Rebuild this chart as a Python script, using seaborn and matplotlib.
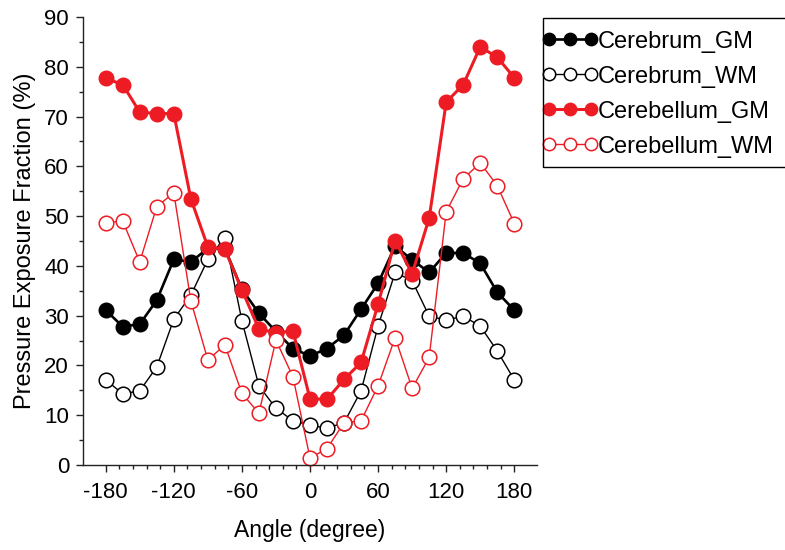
import matplotlib
matplotlib.use('Agg')
import matplotlib.pyplot as plt
import matplotlib.patches as mpatches
import seaborn as sns
import pandas as pd
import numpy as np
from matplotlib.ticker import MultipleLocator, FixedLocator

# Данные
angles = [-180, -165, -150, -135, -120, -105, -90, -75, -60, -45, -30, -15, 0,
          15, 30, 45, 60, 75, 90, 105, 120, 135, 150, 165, 180]
cerebrum_gm = [31.1, 27.8, 28.3, 33.1, 41.3, 40.8, 43.5, 43.5, 35.3, 30.5, 26.8, 23.4, 21.9,
               23.4, 26.1, 31.3, 36.5, 44.0, 41.2, 38.7, 42.6, 42.6, 40.5, 34.7, 31.1]
cerebrum_wm = [17.1, 14.3, 14.9, 19.7, 29.3, 34.1, 41.3, 45.7, 29.0, 15.9, 11.4, 8.9, 8.0,
               7.4, 8.5, 14.9, 27.9, 38.7, 37.0, 29.9, 29.1, 29.9, 27.9, 22.9, 17.1]
cerebellum_gm = [77.7, 76.4, 70.9, 70.6, 70.6, 53.5, 43.8, 43.3, 35.2, 27.3, 26.6, 26.9, 13.3,
                 13.2, 17.2, 20.6, 32.3, 45.1, 38.4, 49.6, 72.9, 76.4, 84.0, 81.9, 77.8]
cerebellum_wm = [48.7, 49.0, 40.8, 51.9, 54.7, 33.0, 21.1, 24.1, 14.4, 10.4, 25.1, 17.7, 1.4,
                 3.3, 8.5, 8.9, 15.9, 25.6, 15.4, 21.6, 50.9, 57.5, 60.7, 56.1, 48.5]

series_names = ['Cerebrum_GM', 'Cerebrum_WM', 'Cerebellum_GM', 'Cerebellum_WM']
series_values = [cerebrum_gm, cerebrum_wm, cerebellum_gm, cerebellum_wm]

RED = '#ed1c24'
styles = {
    'Cerebrum_GM': dict(color='black', markerfacecolor='black', lw=1.9, mew=1.0),
    'Cerebrum_WM': dict(color='black', markerfacecolor='white', lw=1.0, mew=1.1),
    'Cerebellum_GM': dict(color=RED, markerfacecolor=RED, lw=2.2, mew=1.0),
    'Cerebellum_WM': dict(color=RED, markerfacecolor='white', lw=1.0, mew=1.1),
}

sns.set_theme(style='ticks')
plt.rcParams['font.family'] = ['Liberation Sans', 'DejaVu Sans']
plt.rcParams['axes.unicode_minus'] = False
plt.rcParams['text.color'] = 'black'
plt.rcParams['axes.labelcolor'] = 'black'
plt.rcParams['xtick.color'] = 'black'
plt.rcParams['ytick.color'] = 'black'

fig = plt.figure(figsize=(7.85, 5.5), dpi=100)
ax = fig.add_axes([83 / 785, 1 - 465 / 550, (537 - 83) / 785, (465 - 17) / 550])

for name, vals in zip(series_names, series_values):
    df = pd.DataFrame({'angle': angles, 'value': vals})
    st = styles[name]
    sns.lineplot(data=df, x='angle', y='value', ax=ax, marker='o', markersize=10.5,
                 color=st['color'], markerfacecolor=st['markerfacecolor'],
                 markeredgecolor=st['color'], markeredgewidth=st['mew'],
                 linewidth=st['lw'], label=name, clip_on=False)

ax.set_xlim(-200, 200)
ax.set_ylim(0, 90)
ax.xaxis.set_major_locator(FixedLocator([-180, -120, -60, 0, 60, 120, 180]))
minor_x = [v for v in range(-180, 181, 12) if v % 60 != 0]
ax.xaxis.set_minor_locator(FixedLocator(minor_x))
ax.yaxis.set_major_locator(MultipleLocator(10))
ax.yaxis.set_minor_locator(MultipleLocator(5))
ax.tick_params(axis='both', which='major', direction='out', length=5, width=1,
               labelsize=16, color='#222222', pad=5)
ax.tick_params(axis='x', which='major', pad=7)
ax.tick_params(axis='both', which='minor', direction='out', length=3, width=1, color='#222222')

for side in ['top', 'right']:
    ax.spines[side].set_visible(False)
for side in ['left', 'bottom']:
    ax.spines[side].set_linewidth(1.0)
    ax.spines[side].set_color('#222222')

ax.set_xlabel('Angle (degree)', fontsize=16.5, labelpad=12)
ax.set_ylabel('Pressure Exposure Fraction (%)', fontsize=17, labelpad=6)

# Легенда без рамки + рамка отдельно (как в исходнике — заходит за край)
leg = ax.legend(loc='upper left', bbox_to_anchor=(538 / 785, 1 - 27 / 550),
                bbox_transform=fig.transFigure, fontsize=17, frameon=False,
                numpoints=3, handlelength=2.4, handletextpad=0.0, borderpad=0.15,
                labelspacing=0.55, borderaxespad=0, markerscale=0.85)
frame = mpatches.Rectangle((543 / 785, 1 - 167 / 550), 260 / 785, 149 / 550,
                           transform=fig.transFigure, fill=False, edgecolor='black',
                           linewidth=1.0, clip_on=False)
fig.patches.append(frame)

fig.savefig('out.png', dpi=100)
plt.close(fig)
